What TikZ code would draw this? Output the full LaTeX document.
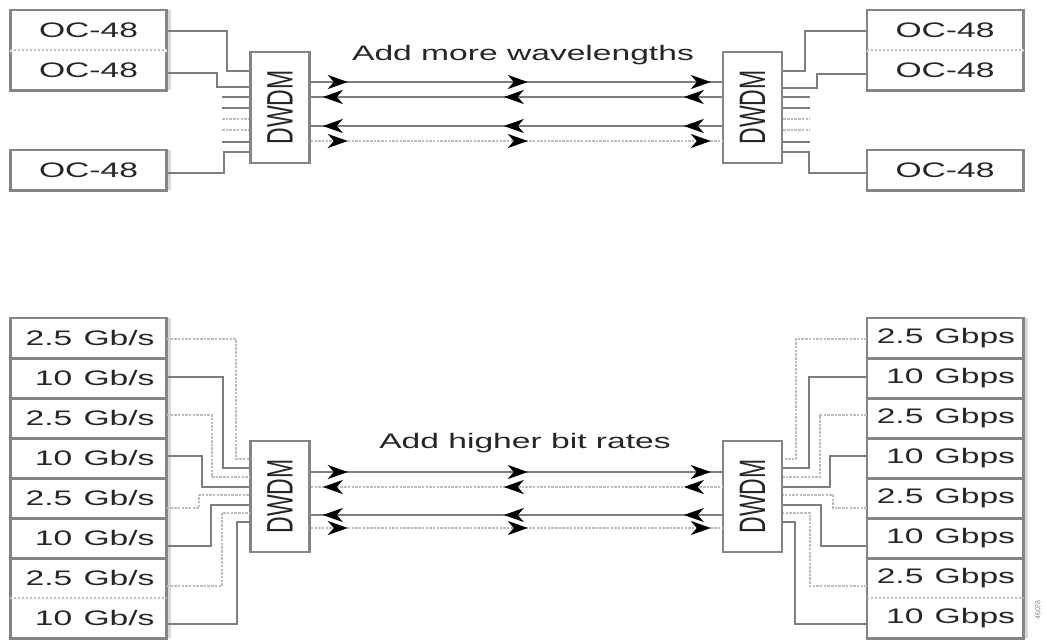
\documentclass[tikz,border=0pt]{standalone}
\usepackage{fontspec}
\setmainfont{Liberation Sans}
\usepackage{graphicx}
\usetikzlibrary{arrows.meta,decorations.markings}
\definecolor{boxgray}{HTML}{858585}
\definecolor{wiredark}{HTML}{7E7E7E}
\definecolor{wirelight}{HTML}{BEBEBE}
\definecolor{striplight}{HTML}{D8D8D8}
\definecolor{txt}{HTML}{262626}
\newcommand\sx[1]{\scalebox{1.6}[1]{#1}}
\begin{document}
\begin{tikzpicture}[x=1pt,y=-1pt,
  cell/.style={inner sep=0pt, minimum width=156pt, minimum height=40pt, text=txt, font=\fontsize{21}{25}\selectfont},
  cellL/.style={cell, inner xsep=12pt, text width=132pt, align=right},
  cellR/.style={cell, inner xsep=8pt, text width=140pt, align=right},
  frame/.style={draw=boxgray, line width=2.6pt},
  sepdot/.style={draw=wirelight, line width=2.4pt, dash pattern=on 2pt off 2pt},
  strip/.style={fill=striplight},
  mux/.style={draw=boxgray, line width=2.6pt, fill=white, inner sep=0pt, minimum width=59pt, minimum height=111pt, text=txt, font=\fontsize{23}{23}\selectfont},
  title/.style={anchor=base, text=txt, font=\fontsize{21}{25}\selectfont},
  wdark/.style={draw=wiredark, line width=2.3pt},
  wlite/.style={draw=wirelight, line width=2.3pt, dash pattern=on 2.5pt off 1.2pt},
  fwd/.style={postaction={decorate}, decoration={markings,
     mark=at position 37pt with {\arrow[black]{Stealth[length=20pt,width=14pt,inset=6pt]}},
     mark=at position 217pt with {\arrow[black]{Stealth[length=20pt,width=14pt,inset=6pt]}},
     mark=at position 400pt with {\arrow[black]{Stealth[length=20pt,width=14pt,inset=6pt]}}}},
  bwd/.style={postaction={decorate}, decoration={markings,
     mark=at position 12pt with {\arrowreversed[black]{Stealth[length=20pt,width=14pt,inset=6pt]}},
     mark=at position 193pt with {\arrowreversed[black]{Stealth[length=20pt,width=14pt,inset=6pt]}},
     mark=at position 373pt with {\arrowreversed[black]{Stealth[length=20pt,width=14pt,inset=6pt]}}}}
]
\useasboundingbox[fill=white] (0,0) rectangle (1046,640);

% ---------------- top section ----------------
\node[cell] (lt1) at (88.5,30) {\sx{OC-48}};
\node[cell] (lt2) at (88.5,70) {\sx{OC-48}};
\node[cell] (lt3) at (88.5,170) {\sx{OC-48}};
\node[cell] (rt1) at (945,30) {\sx{OC-48}};
\node[cell] (rt2) at (945,70) {\sx{OC-48}};
\node[cell] (rt3) at (945,170) {\sx{OC-48}};

\fill[strip] ([xshift=1pt]lt1.north east) rectangle ([xshift=4.5pt]lt2.south east);
\fill[strip] ([xshift=1pt]lt3.north east) rectangle ([xshift=4.5pt]lt3.south east);
\draw[frame] (lt1.north west) rectangle (lt2.south east);
\draw[frame] (lt3.north west) rectangle (lt3.south east);
\draw[frame] (rt1.north west) rectangle (rt2.south east);
\draw[frame] (rt3.north west) rectangle (rt3.south east);
\draw[draw=white, line width=2.6pt] (lt1.south west) -- (lt1.south east);
\draw[sepdot] (lt1.south west) -- (lt1.south east);
\draw[draw=white, line width=2.6pt] (rt1.south west) -- (rt1.south east);
\draw[sepdot] (rt1.south west) -- (rt1.south east);

\node[mux] (dl1) at (280,107.5) {\sx{\rotatebox{90}{DWDM}}};
\node[mux] (dr1) at (752.5,107.5) {\sx{\rotatebox{90}{DWDM}}};

\node[title] (t1) at (523,60) {\sx{Add more wavelengths}};

% left wires
\draw[wdark] (lt1.east |- 0,31) -| (227,71) -- (dl1.west |- 0,71);
\draw[wdark] (lt2.east |- 0,73) -| (217,87) -- (dl1.west |- 0,87);
\draw[wdark] (lt3.east |- 0,173) -| (224,152) -- (dl1.west |- 0,152);
\foreach \y/\s [count=\k] in {97/wdark,108/wdark,119/wlite,130/wlite,142/wdark}{
  \coordinate (sl\k) at (222,\y);
  \draw[\s] (sl\k) -- (dl1.west |- sl\k);
  \coordinate (sr\k) at (810,\y);
  \draw[\s] (dr1.east |- sr\k) -- (sr\k);
}
% right wires
\draw[wdark] (rt1.west |- 0,31) -| (805,71) -- (dr1.east |- 0,71);
\draw[wdark] (rt2.west |- 0,74) -| (817,88) -- (dr1.east |- 0,88);
\draw[wdark] (rt3.west |- 0,173) -| (809,152) -- (dr1.east |- 0,152);

% fibres
\draw[wdark, fwd] (dl1.east |- 0,82) -- (dr1.west |- 0,82);
\draw[wdark, bwd] (dl1.east |- 0,97) -- (dr1.west |- 0,97);
\draw[wdark, bwd] (dl1.east |- 0,126) -- (dr1.west |- 0,126);
\draw[wlite, fwd] (dl1.east |- 0,141) -- (dr1.west |- 0,141);

% ---------------- bottom section ----------------
\foreach \k/\a/\b in {1/2.5 Gb\slash s/2.5 Gbps,2/10 Gb\slash s/10 Gbps,3/2.5 Gb\slash s/2.5 Gbps,4/10 Gb\slash s/10 Gbps,5/2.5 Gb\slash s/2.5 Gbps,6/10 Gb\slash s/10 Gbps,7/2.5 Gb\slash s/2.5 Gbps,8/10 Gb\slash s/10 Gbps}{
  \node[cellL] (bl\k) at (88.5,{298+40*\k}) {\sx{\a}};
  \node[cellR] (br\k) at (945,{298+40*\k}) {\sx{\b}};
}
\fill[strip] ([xshift=1pt]bl1.north east) rectangle ([xshift=4.5pt]bl8.south east);
\fill[strip] ([xshift=1pt]br1.north east) rectangle ([xshift=4.5pt]br8.south east);
\draw[frame] (bl1.north west) rectangle (bl8.south east);
\draw[frame] (br1.north west) rectangle (br8.south east);
\foreach \k in {1,...,6}{
  \draw[frame] (bl\k.south west) -- (bl\k.south east);
  \draw[frame] (br\k.south west) -- (br\k.south east);
}
\draw[sepdot] (bl7.south west) -- (bl7.south east);
\draw[sepdot] (br7.south west) -- (br7.south east);

\node[mux] (dl2) at (280,496.5) {\sx{\rotatebox{90}{DWDM}}};
\node[mux] (dr2) at (752.5,496.5) {\sx{\rotatebox{90}{DWDM}}};

\node[title] (t2) at (525,448) {\sx{Add higher bit rates}};

\foreach \k/\ey/\vx/\dy/\s in {1/339/236/459/wlite,2/377/223/468/wdark,3/415/212/477/wlite,4/456/202/487/wdark,5/508/199/495/wlite,6/546/211/505/wdark,7/586/222/513/wlite,8/624/237/522/wdark}{
  \draw[\s] (bl\k.east |- 0,\ey) -| (\vx,\dy) -- (dl2.west |- 0,\dy);
  \draw[\s] (br\k.west |- 0,\ey) -| ({1032-\vx},\dy) -- (dr2.east |- 0,\dy);
}

\draw[wdark, fwd] (dl2.east |- 0,472) -- (dr2.west |- 0,472);
\draw[wlite, bwd] (dl2.east |- 0,487) -- (dr2.west |- 0,487);
\draw[wdark, bwd] (dl2.east |- 0,515) -- (dr2.west |- 0,515);
\draw[wlite, fwd] (dl2.east |- 0,528) -- (dr2.west |- 0,528);

\node[rotate=90, text=gray, font=\fontsize{7}{7}\selectfont] (fid) at (1038,610) {46078};
\end{tikzpicture}
\end{document}
